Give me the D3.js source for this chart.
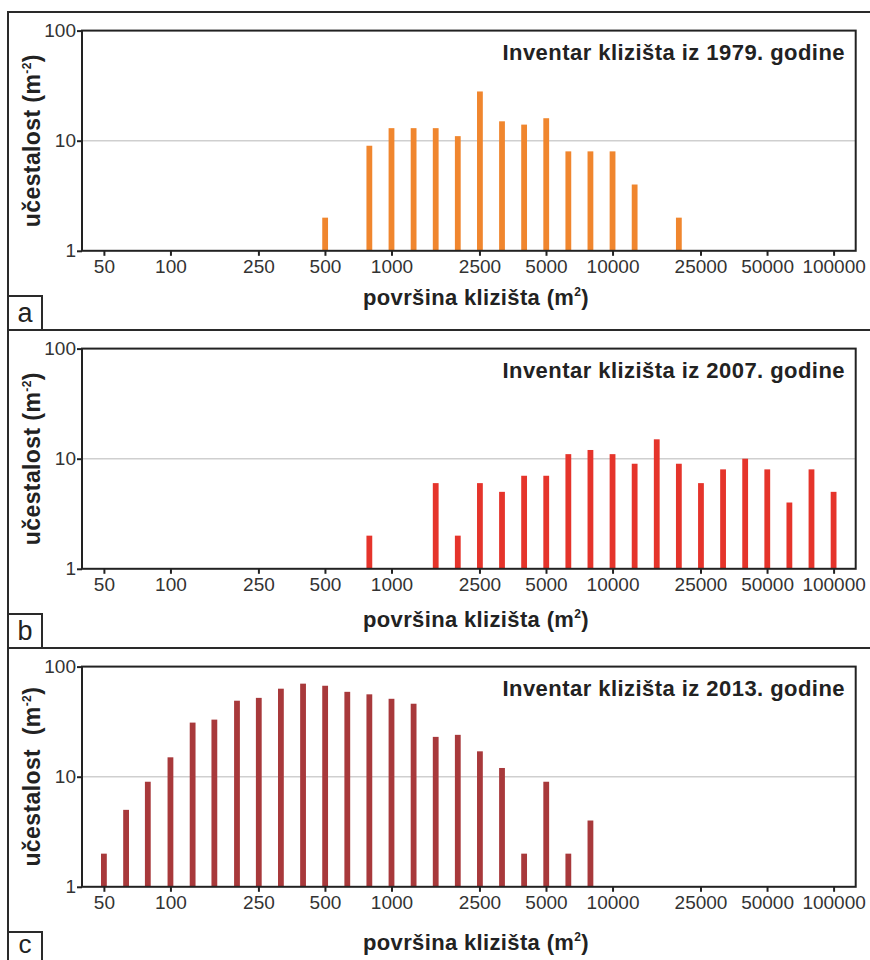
<!DOCTYPE html>
<html>
<head>
<meta charset="utf-8">
<script src="https://cdn.jsdelivr.net/npm/d3@7/dist/d3.min.js"></script>
<style>
  html, body { margin: 0; padding: 0; background: #fff; }
  svg { display: block; font-family: "Liberation Sans", Arial, Helvetica, sans-serif; }
</style>
</head>
<body>
<svg id="chart" width="870" height="960"></svg>
<script>
// ---- data ----
const xTickValues = [50, 100, 250, 500, 1000, 2500, 5000, 10000, 25000, 50000, 100000];
const yTickValues = [1, 10, 100];

const panelLetters = ["a", "b", "c"];
const panelTitles = [
  "Inventar klizišta iz 1979. godine",
  "Inventar klizišta iz 2007. godine",
  "Inventar klizišta iz 2013. godine"
];
const panelColors = ["#f0862e", "#e5342b", "#a8393b"];

const areas1979  = [501, 794, 1000, 1259, 1585, 1995, 2512, 3162, 3981, 5012, 6310, 7943, 10000, 12589, 19953];
const counts1979 = [2, 9, 13, 13, 13, 11, 28, 15, 14, 16, 8, 8, 8, 4, 2];

const areas2007  = [794, 1585, 1995, 2512, 3162, 3981, 5012, 6310, 7943, 10000, 12589, 15849, 19953, 25119, 31623, 39811, 50119, 63096, 79433, 100000];
const counts2007 = [2, 6, 2, 6, 5, 7, 7, 11, 12, 11, 9, 15, 9, 6, 8, 10, 8, 4, 8, 5];

const areas2013  = [50, 63, 79, 100, 126, 158, 200, 251, 316, 398, 501, 631, 794, 1000, 1259, 1585, 1995, 2512, 3162, 3981, 5012, 6310, 7943];
const counts2013 = [2, 5, 9, 15, 31, 33, 49, 52, 63, 70, 67, 59, 56, 51, 46, 23, 24, 17, 12, 2, 9, 2, 4];

const panelAreas  = [areas1979, areas2007, areas2013];
const panelCounts = [counts1979, counts2007, counts2013];

// ---- layout ----
const svg = d3.select("#chart");
const W = 870;
const frameLeft = 8;
const panelStep = 318;
const frameTop = 12;
const plotLeft = 82, plotRight = 855.7;
const plotTop0 = 30.6, plotBottom0 = 250.8;
const xTitleBaselines = [305, 305 + 322, 305 + 645];
const yLabelTexts = ["učestalost (m", "učestalost (m", "učestalost  (m"];

const x = d3.scaleLog().domain([39.8, 125900]).range([plotLeft, plotRight]);

// outer frame lines
const frame = svg.append("g").attr("stroke", "#2a2a2a").attr("stroke-width", 2).attr("fill", "none");
frame.append("line").attr("x1", frameLeft).attr("x2", W + 2).attr("y1", frameTop).attr("y2", frameTop);
frame.append("line").attr("x1", frameLeft).attr("x2", frameLeft).attr("y1", frameTop - 1).attr("y2", 962);
[1, 2].forEach(i => {
  const yy = frameTop + panelStep * i;
  frame.append("line").attr("x1", frameLeft).attr("x2", W + 2).attr("y1", yy).attr("y2", yy);
});

panelLetters.forEach((letter, i) => {
  const off = panelStep * i;
  const top = plotTop0 + off, bottom = plotBottom0 + off;
  const y = d3.scaleLog().domain([1, 100]).range([bottom, top]);
  const g = svg.append("g");

  // gridline at 10
  g.append("line")
    .attr("x1", plotLeft).attr("x2", plotRight)
    .attr("y1", y(10)).attr("y2", y(10))
    .attr("stroke", "#cfcfcf").attr("stroke-width", 1.5);

  // bars
  const data = panelAreas[i].map((a, k) => ({ a, c: panelCounts[i][k] }));
  g.selectAll("rect.bar").data(data).enter().append("rect")
    .attr("class", "bar")
    .attr("x", d => x(d.a) - 2.9)
    .attr("width", 5.8)
    .attr("y", d => y(d.c))
    .attr("height", d => y(1) - y(d.c))
    .attr("fill", panelColors[i]);

  // x axis
  const xAxis = d3.axisBottom(x).tickValues(xTickValues).tickFormat(d3.format("d")).tickSizeOuter(0).tickSize(5).tickPadding(4);
  const gx = g.append("g").attr("transform", `translate(0,${bottom})`).call(xAxis);
  gx.select(".domain").remove();
  gx.selectAll(".tick line").attr("stroke", "#222").attr("stroke-width", 2);
  gx.selectAll(".tick text").attr("font-size", 19).attr("fill", "#333").attr("font-family", "Liberation Sans, Arial, sans-serif");

  // y axis
  const yAxis = d3.axisLeft(y).tickValues(yTickValues).tickFormat(d3.format("d")).tickSizeOuter(0).tickSize(5).tickPadding(1);
  const gy = g.append("g").attr("transform", `translate(${plotLeft},0)`).call(yAxis);
  gy.select(".domain").remove();
  gy.selectAll(".tick line").attr("stroke", "#222").attr("stroke-width", 2);
  gy.selectAll(".tick text").attr("font-size", 19).attr("fill", "#333").attr("font-family", "Liberation Sans, Arial, sans-serif");

  // plot frame
  g.append("rect")
    .attr("x", plotLeft).attr("y", top)
    .attr("width", plotRight - plotLeft).attr("height", bottom - top)
    .attr("fill", "none").attr("stroke", "#222").attr("stroke-width", 2);

  // panel title
  g.append("text")
    .attr("x", 845).attr("y", 60 + off)
    .attr("text-anchor", "end")
    .attr("font-size", 22).attr("font-weight", "bold").attr("fill", "#222")
    .attr("letter-spacing", 0.45)
    .text(panelTitles[i]);

  // x title
  const xt = g.append("text")
    .attr("x", 476).attr("y", xTitleBaselines[i])
    .attr("text-anchor", "middle")
    .attr("font-size", 22).attr("font-weight", "bold").attr("fill", "#222")
    .attr("letter-spacing", 0.35);
  xt.append("tspan").text("površina klizišta (m");
  xt.append("tspan").attr("font-size", 12).attr("dy", -9).text("2");
  xt.append("tspan").attr("dy", 9).text(")");

  // y title
  const yt = g.append("text")
    .attr("transform", `translate(40,${(top + bottom) / 2}) rotate(-90)`)
    .attr("text-anchor", "middle")
    .attr("font-size", 23).attr("font-weight", "bold").attr("fill", "#222")
    .attr("letter-spacing", 0.4)
    .style("white-space", "pre");
  yt.append("tspan").text(yLabelTexts[i]);
  yt.append("tspan").attr("font-size", 12).attr("dy", -9).text("-2");
  yt.append("tspan").attr("dy", 9).text(")");

  // letter box
  const boxBottom = frameTop + panelStep * (i + 1);
  g.append("rect")
    .attr("x", frameLeft).attr("y", boxBottom - 34)
    .attr("width", 34).attr("height", i === 2 ? 60 : 34)
    .attr("fill", "#fff").attr("stroke", "#2a2a2a").attr("stroke-width", 2);
  g.append("text")
    .attr("x", frameLeft + 17).attr("y", i === 2 ? 953 : boxBottom - 8)
    .attr("text-anchor", "middle")
    .attr("font-size", i === 2 ? 26 : 27).attr("fill", "#222")
    .text(letter);
});
</script>
</body>
</html>
